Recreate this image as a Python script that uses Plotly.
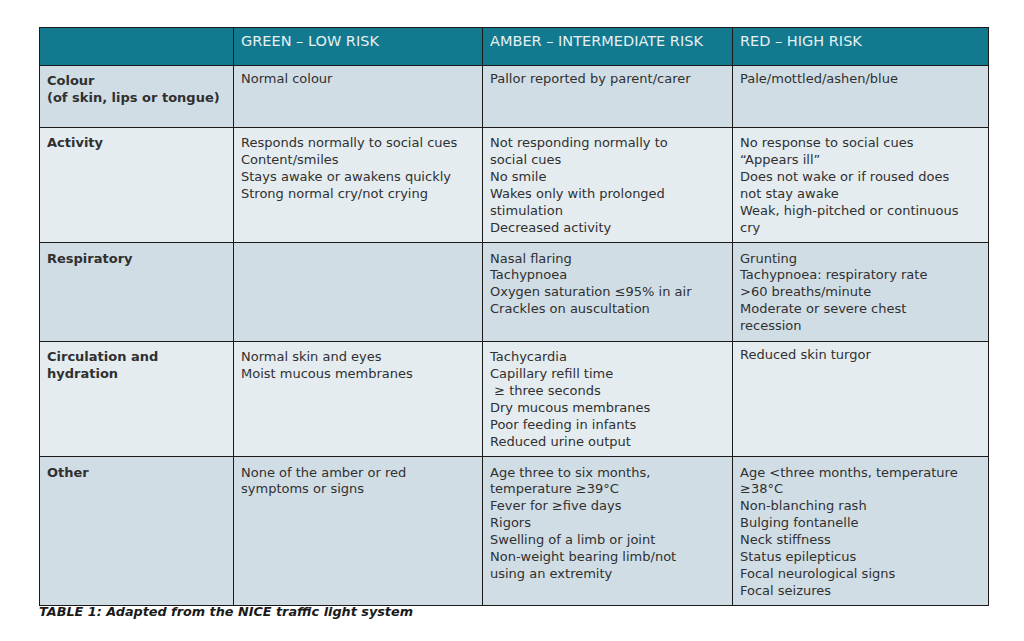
import plotly.graph_objects as go

headers = ["", "GREEN – LOW RISK", "AMBER – INTERMEDIATE RISK", "RED – HIGH RISK"]

categories = [
    ["Colour", "(of skin, lips or tongue)"],
    ["Activity"],
    ["Respiratory"],
    ["Circulation and", "hydration"],
    ["Other"],
]

green = [
    ["Normal colour"],
    ["Responds normally to social cues", "Content/smiles", "Stays awake or awakens quickly",
     "Strong normal cry/not crying"],
    [],
    ["Normal skin and eyes", "Moist mucous membranes"],
    ["None of the amber or red", "symptoms or signs"],
]

amber = [
    ["Pallor reported by parent/carer"],
    ["Not responding normally to", "social cues", "No smile", "Wakes only with prolonged",
     "stimulation", "Decreased activity"],
    ["Nasal flaring", "Tachypnoea", "Oxygen saturation ≤95% in air", "Crackles on auscultation"],
    ["Tachycardia", "Capillary refill time", " ≥ three seconds", "Dry mucous membranes",
     "Poor feeding in infants", "Reduced urine output"],
    ["Age three to six months,", "temperature ≥39°C", "Fever for ≥five days", "Rigors",
     "Swelling of a limb or joint", "Non-weight bearing limb/not", "using an extremity"],
]

red = [
    ["Pale/mottled/ashen/blue"],
    ["No response to social cues", "“Appears ill”", "Does not wake or if roused does",
     "not stay awake", "Weak, high-pitched or continuous", "cry"],
    ["Grunting", "Tachypnoea: respiratory rate", ">60 breaths/minute", "Moderate or severe chest",
     "recession"],
    ["Reduced skin turgor"],
    ["Age <three months, temperature", "≥38°C", "Non-blanching rash", "Bulging fontanelle",
     "Neck stiffness", "Status epilepticus", "Focal neurological signs", "Focal seizures"],
]

caption = "TABLE 1: Adapted from the NICE traffic light system"

# layout constants (figure pixels; page has an 8px body margin)
W, H = 1008, 625
col_widths = [194, 249, 250, 256]
row_fills = ["#d0dde5", "#e4ecf0", "#d0dde5", "#e4ecf0", "#d0dde5"]
FONT = "DejaVu Sans, sans-serif"


def fmt(lines, bold=False):
    if not lines:
        return ""
    if bold:
        lines = [f"<b>{l}</b>" for l in lines]
    return "<br>".join(lines)


cols = [
    [fmt(c, bold=True) for c in categories],
    [fmt(c) for c in green],
    [fmt(c) for c in amber],
    [fmt(c) for c in red],
]

fig = go.Figure(go.Table(
    domain=dict(x=[31 / W, 980 / W], y=[0, 1]),
    columnwidth=col_widths,
    header=dict(
        values=headers,
        fill_color="#12798f",
        line=dict(color="#1a1a1a", width=1),
        font=dict(family=FONT, size=14.5, color="#e6f0f3"),
        align="left",
        height=38,
    ),
    cells=dict(
        values=cols,
        fill_color=[row_fills] * 4,
        line=dict(color="#1a1a1a", width=1),
        font=dict(family=FONT, size=13, color="#303030"),
        align="left",
        height=62,
    ),
))

fig.add_annotation(
    text=f"<b><i>{caption}</i></b>", x=31 / W, y=(H - 603) / (H - 19),
    xref="paper", yref="paper", xanchor="left", yanchor="middle", showarrow=False,
    xshift=-2, font=dict(family=FONT, size=12.8, color="#1a1a1a"),
)

fig.update_layout(
    width=W, height=H,
    margin=dict(l=0, r=0, t=19, b=0),
    paper_bgcolor="white", plot_bgcolor="white",
)

fig.write_html("out.html")
